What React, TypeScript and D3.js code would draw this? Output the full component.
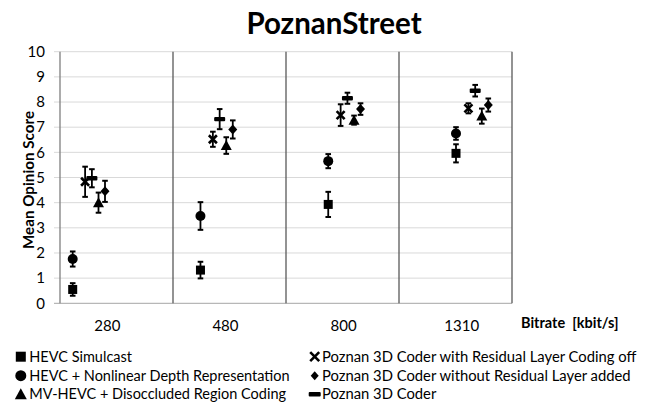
import React from 'react';
import * as d3 from 'd3';

// ---- data ----
const bitrates = ['280', '480', '800', '1310'];
const yTicks = [0, 1, 2, 3, 4, 5, 6, 7, 8, 9, 10];

const seriesNames = [
  'HEVC Simulcast',
  'HEVC + Nonlinear Depth Representation',
  'MV-HEVC + Disoccluded Region Coding',
  'Poznan 3D Coder with Residual Layer Coding off',
  'Poznan 3D Coder without Residual Layer added',
  'Poznan 3D Coder',
];
const seriesSymbols = ['square', 'circle', 'triangle', 'x', 'diamond', 'dash'];

const hevcSimulcast = [0.55, 1.32, 3.93, 5.96];
const hevcSimulcastErr = [0.25, 0.33, 0.5, 0.36];
const hevcNonlinear = [1.76, 3.47, 5.65, 6.75];
const hevcNonlinearErr = [0.3, 0.55, 0.28, 0.25];
const mvHevc = [4.0, 6.27, 7.28, 7.44];
const mvHevcErr = [0.4, 0.33, 0.18, 0.3];
const residualOff = [4.83, 6.52, 7.48, 7.75];
const residualOffErr = [0.6, 0.3, 0.43, 0.2];
const noResidual = [4.45, 6.91, 7.72, 7.88];
const noResidualErr = [0.42, 0.36, 0.23, 0.26];
const poznan3D = [4.97, 7.32, 8.15, 8.45];
const poznan3DErr = [0.36, 0.4, 0.22, 0.23];

const seriesValues = [hevcSimulcast, hevcNonlinear, mvHevc, residualOff, noResidual, poznan3D];
const seriesErrors = [hevcSimulcastErr, hevcNonlinearErr, mvHevcErr, residualOffErr, noResidualErr, poznan3DErr];

// ---- layout ----
const W = 664;
const H = 412;
const FONT = 'Lato, "Open Sans", sans-serif';
const plotLeft = 60;
const plotRight = 512;
const plotTop = 51.7;
const plotBottom = 303.3;
// horizontal offsets (px) of each series' marker inside a group
const seriesShift = [0, 0, 25.8, 12.4, 32.3, 19.2];

function Marker({ type, x, y, s }: { type: string; x: number; y: number; s: number }) {
  const h = s / 2;
  if (type === 'square') return <rect x={x - h} y={y - h} width={s} height={s} fill="#000" />;
  if (type === 'circle') return <circle cx={x} cy={y} r={h + 0.5} fill="#000" />;
  if (type === 'triangle')
    return <path d={`M${x},${y - h - 1}L${x + h + 1},${y + h}L${x - h - 1},${y + h}Z`} fill="#000" />;
  if (type === 'diamond')
    return <path d={`M${x},${y - h - 0.5}L${x + h},${y}L${x},${y + h + 0.5}L${x - h},${y}Z`} fill="#000" />;
  if (type === 'x')
    return (
      <path
        d={`M${x - h + 0.5},${y - h + 0.5}L${x + h - 0.5},${y + h - 0.5}M${x + h - 0.5},${y - h + 0.5}L${x - h + 0.5},${y + h - 0.5}`}
        stroke="#000"
        strokeWidth={2.6}
      />
    );
  // dash
  return <rect x={x - h - 1} y={y - 2.2} width={s + 2} height={4.4} rx={1} fill="#000" />;
}

export default function App() {
  const y = d3.scaleLinear().domain([0, 10]).range([plotBottom, plotTop]);
  const divider = d3.scaleLinear().domain([0, bitrates.length]).range([plotLeft, plotRight]);
  const pointX = d3.scaleLinear().domain([0, bitrates.length - 1]).range([72.7, 456]);
  const labelX = d3.scaleLinear().domain([0, bitrates.length - 1]).range([107.3, 461.7]);
  const groups = d3.range(bitrates.length + 1);

  const legendRows = [356.7, 375.7, 394.3];
  const legendCols = [{ mx: 20.8, tx: 29.3, fs: 14.5 }, { mx: 314.7, tx: 322, fs: 14.8 }];

  return (
    <svg width={W} height={H} style={{ position: 'absolute', left: 0, top: 0, background: '#fff' }} fontFamily={FONT}>
      <rect width={W} height={H} fill="#fff" />
      <text x={334} y={34} textAnchor="middle" fontSize={29.5} fontWeight="bold" fill="#000">
        PoznanStreet
      </text>

      {/* gridlines */}
      {yTicks.map((t) => (
        <line
          key={'g' + t}
          x1={54}
          x2={plotRight}
          y1={y(t)}
          y2={y(t)}
          stroke={t === 0 ? '#a6a6a6' : '#d9d9d9'}
          strokeWidth={1}
        />
      ))}
      {yTicks.map((t) => (
        <text key={'yt' + t} x={45} y={y(t)} dy="0.35em" textAnchor="end" fontSize={15} fill="#000">
          {t}
        </text>
      ))}

      {/* dividers */}
      {groups.map((g) => (
        <line
          key={'d' + g}
          x1={divider(g)}
          x2={divider(g)}
          y1={plotTop}
          y2={plotBottom}
          stroke={g === 0 ? '#7f7f7f' : '#595959'}
          strokeWidth={1.3}
        />
      ))}

      {/* axis labels */}
      {bitrates.map((b, i) => (
        <text key={'x' + b} x={labelX(i)} y={325.7} dy="0.35em" textAnchor="middle" fontSize={15} fill="#000">
          {b}
        </text>
      ))}
      <text x={521} y={323} dy="0.35em" fontSize={14.5} fontWeight="bold" fill="#000" style={{ whiteSpace: 'pre' }}>
        {'Bitrate  [kbit/s]'}
      </text>
      <text
        transform={`translate(28.5,180) rotate(-90)`}
        textAnchor="middle"
        dy="0.35em"
        fontSize={15.2}
        fontWeight="bold"
        fill="#000"
      >
        Mean Opinion Score
      </text>

      {/* error bars + markers */}
      {seriesValues.map((vals, si) => (
        <g key={'s' + si}>
          {vals.map((v, i) => {
            const cx = pointX(i) + seriesShift[si];
            const e = seriesErrors[si][i];
            const y1 = y(v + e);
            const y2 = y(v - e);
            return (
              <g key={i}>
                <line x1={cx} x2={cx} y1={y1} y2={y2} stroke="#000" strokeWidth={1.8} />
                <line x1={cx - 2.8} x2={cx + 2.8} y1={y1} y2={y1} stroke="#000" strokeWidth={2} />
                <line x1={cx - 2.8} x2={cx + 2.8} y1={y2} y2={y2} stroke="#000" strokeWidth={2} />
                <Marker type={seriesSymbols[si]} x={cx} y={y(v)} s={9} />
              </g>
            );
          })}
        </g>
      ))}

      {/* legend */}
      {seriesNames.map((name, i) => {
        const col = legendCols[Math.floor(i / 3)];
        const ry = legendRows[i % 3];
        return (
          <g key={'l' + i}>
            <Marker type={seriesSymbols[i]} x={col.mx} y={ry} s={i === 4 ? 8 : 10} />
            <text x={col.tx} y={ry} dy="0.35em" fontSize={col.fs} fill="#000">
              {name}
            </text>
          </g>
        );
      })}
    </svg>
  );
}
